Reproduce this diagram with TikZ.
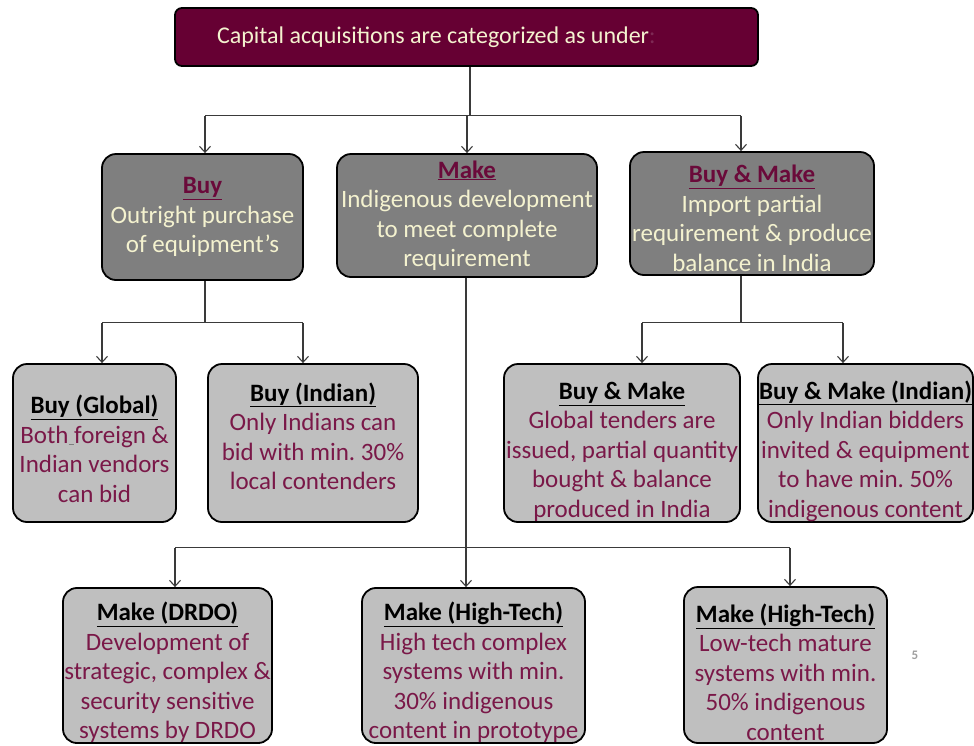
\documentclass[tikz,border=0pt]{standalone}
\usepackage{fontspec}
\setmainfont{Carlito}
\usetikzlibrary{arrows.meta,calc}
\frenchspacing
\definecolor{topfill}{HTML}{660033}
\definecolor{cream}{HTML}{F4F2CF}
\definecolor{darkgrey}{HTML}{7F7F7F}
\definecolor{lightgrey}{HTML}{BFBFBF}
\definecolor{bodymaroon}{HTML}{7A1848}
\definecolor{hdmaroon}{HTML}{6A0A3A}
\definecolor{colonc}{HTML}{7E2A55}
\definecolor{linec}{HTML}{3A3A3A}
\newcommand{\hdd}[1]{\textcolor{hdmaroon}{\underline{\textbf{#1}}}}
\newcommand{\hdl}[1]{\textcolor{black}{\underline{\textbf{#1}}}}
\newcommand{\up}[1]{\rule{0pt}{#1}}
\newcommand{\dn}[1]{\rule[-#1]{0pt}{0pt}}
\begin{document}
\begin{tikzpicture}[x=1pt,y=-1pt,
  box/.style={draw=black, line width=1.8pt, rounded corners=14pt, align=center, inner sep=0pt,
    font=\fontsize{25}{29.5}\selectfont},
  dark/.style={box, fill=darkgrey, text=cream},
  light/.style={box, fill=lightgrey, text=bodymaroon},
  topbox/.style={draw=black, line width=1.8pt, rounded corners=7pt, fill=topfill, text=cream,
    font=\fontsize{24}{29}\selectfont, inner xsep=42pt, inner ysep=0pt},
  conn/.style={draw=linec, line width=1.1pt},
  arr/.style={conn, -{Straight Barb[length=6pt,width=11pt,line width=1.1pt]}}]
\useasboundingbox (0,0) rectangle (974,745);
\fill[white] (0,0) rectangle (974,745);

% top
\node[topbox, minimum height=58pt] (top) at (466.5,37)
  {\makebox[499pt][l]{Capital acquisitions are categorized as under\textcolor{colonc}{:}}};

% row 1
\node[dark, minimum width=201pt, minimum height=126pt] (buy) at (202.5,217)
  {\hdd{Buy}\\Outright purchase\\of equipment's};
\node[dark, minimum width=260pt, minimum height=123pt] (make) at (467,215.5)
  {\hdd{Make}\\Indigenous development\\to meet complete\\requirement};
\node[dark, minimum width=244pt, minimum height=123pt] (bm) at (752,213.5)
  {\up{27pt}\hdd{Buy \& Make}\\Import partial\\requirement \& produce\\balance in India};

% row 2
\node[light, minimum width=163pt, minimum height=158pt] (bg) at (94.5,443)
  {\up{30pt}\hdl{Buy (Global)}\\Both\textcolor{darkgrey}{\underline{\ }}foreign \&\\Indian vendors\\can bid};
\node[light, minimum width=210pt, minimum height=158pt] (bi) at (313,443)
  {\hdl{Buy (Indian)}\\Only Indians can\\bid with min. 30\%\\local contenders\dn{14pt}};
\node[light, minimum width=236pt, minimum height=158pt] (bmg) at (622,443)
  {\up{35pt}\hdl{Buy \& Make}\\Global tenders are\\issued, partial quantity\\bought \& balance\\produced in India};
\node[light, minimum width=215pt, minimum height=158pt] (bmi) at (865.5,443)
  {\up{35pt}\hdl{Buy \& Make (Indian)}\\Only Indian bidders\\invited \& equipment\\to have min. 50\%\\indigenous content};

% row 3
\begin{scope}[every node/.append style={font=\fontsize{25}{28.5}\selectfont}]
\node[light, minimum width=209pt, minimum height=155pt] (md) at (167.5,665.5)
  {\up{33pt}\hdl{Make (DRDO)}\\Development of\\strategic, complex \&\\security sensitive\\systems by DRDO};
\node[light, minimum width=223pt, minimum height=155pt] (mh) at (473.5,665.5)
  {\up{33pt}\hdl{Make (High-Tech)}\\High tech complex\\systems with min.\\30\% indigenous\\content in prototype};
\node[light, minimum width=203pt, minimum height=156pt] (ml) at (785.5,665)
  {\up{33pt}\hdl{Make (High-Tech)}\\Low-tech mature\\systems with min.\\50\% indigenous\\content};
\end{scope}

\node[text=gray!75, font=\fontsize{13}{15}\selectfont\bfseries] (pnum) at (915,655) {5};

% connectors: top
\coordinate (j1) at ($(top.south)+(3.5,49)$);
\draw[conn] (top.south -| j1) -- (j1);
\draw[conn] ([xshift=2.5pt]buy.north |- j1) -- ([xshift=-11pt]bm.north |- j1);
\draw[arr] ([xshift=2.5pt]buy.north |- j1) -- ([xshift=2.5pt]buy.north);
\draw[arr] (make.north |- j1) -- (make.north);
\draw[arr] ([xshift=-11pt]bm.north |- j1) -- ([xshift=-11pt]bm.north);

% buy branch
\coordinate (j2) at ($(buy.south)+(2.5,42)$);
\draw[conn] ([xshift=2.5pt]buy.south) -- (j2);
\draw[conn] ([xshift=7.5pt]bg.north |- j2) -- ([xshift=-10pt]bi.north |- j2);
\draw[arr] ([xshift=7.5pt]bg.north |- j2) -- ([xshift=7.5pt]bg.north);
\draw[arr] ([xshift=-10pt]bi.north |- j2) -- ([xshift=-10pt]bi.north);

% buy & make branch
\coordinate (j3) at ($(bm.south)+(-11,47)$);
\draw[conn] ([xshift=-11pt]bm.south) -- (j3);
\draw[conn] ([xshift=20pt]bmg.north |- j3) -- ([xshift=-22.5pt]bmi.north |- j3);
\draw[arr] ([xshift=20pt]bmg.north |- j3) -- ([xshift=20pt]bmg.north);
\draw[arr] ([xshift=-22.5pt]bmi.north |- j3) -- ([xshift=-22.5pt]bmi.north);

% make branch
\coordinate (j4) at ($(make.south)+(-1,270)$);
\draw[conn] ([xshift=-1pt]make.south) -- (j4);
\draw[conn] ([xshift=7.5pt]md.north |- j4) -- ([xshift=4.5pt]ml.north |- j4);
\draw[arr] ([xshift=7.5pt]md.north |- j4) -- ([xshift=7.5pt]md.north);
\draw[arr] (j4) -- (mh.north -| j4);
\draw[arr] ([xshift=4.5pt]ml.north |- j4) -- ([xshift=4.5pt]ml.north);
\end{tikzpicture}
\end{document}
